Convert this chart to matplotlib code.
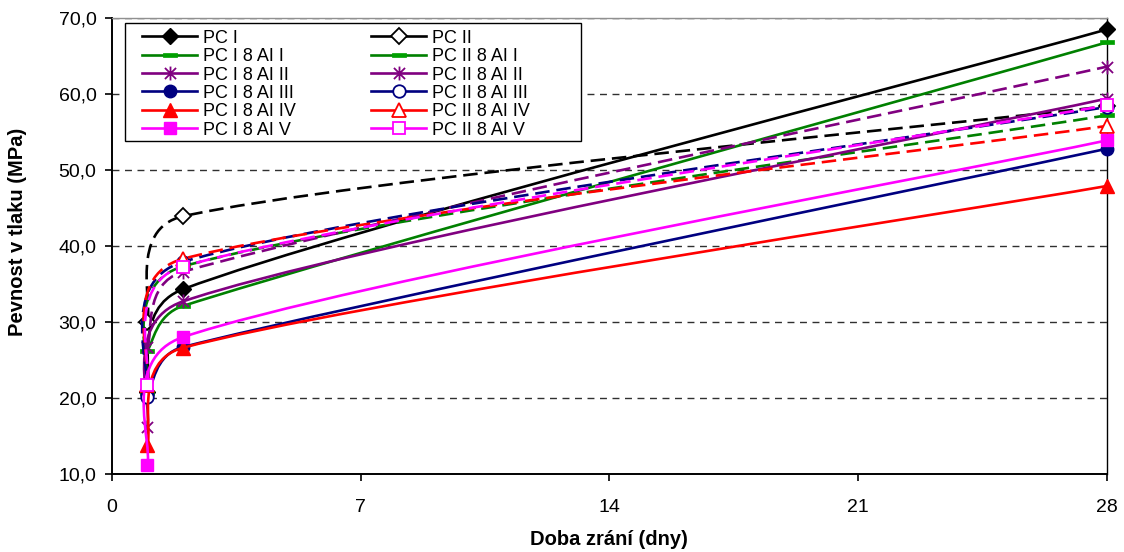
import matplotlib
matplotlib.use("Agg")
import matplotlib.pyplot as plt
import numpy as np
from matplotlib.path import Path
from matplotlib.patches import PathPatch, Rectangle
from matplotlib.lines import Line2D
from matplotlib import font_manager as fm
from matplotlib.ticker import FixedLocator, FuncFormatter

# ---------------- data ----------------
days = [1, 2, 28]

pc_i = [20.8, 34.3, 68.5]
pc_ii = [30.0, 43.9, 58.4]
pc_i_ai_i = [26.2, 32.1, 66.8]
pc_ii_ai_i = [20.6, 37.3, 57.2]
pc_i_ai_ii = [16.2, 32.7, 59.4]
pc_ii_ai_ii = [26.7, 36.6, 63.6]
pc_i_ai_iii = [20.4, 26.7, 52.8]
pc_ii_ai_iii = [20.1, 37.9, 58.3]
pc_i_ai_iv = [13.8, 26.6, 47.9]
pc_ii_ai_iv = [21.7, 38.3, 55.8]
pc_i_ai_v = [11.2, 28.0, 53.9]
pc_ii_ai_v = [21.7, 37.3, 58.5]

series_labels = ["PC I", "PC II",
                 "PC I 8 AI I", "PC II 8 AI I",
                 "PC I 8 AI II", "PC II 8 AI II",
                 "PC I 8 AI III", "PC II 8 AI III",
                 "PC I 8 AI IV", "PC II 8 AI IV",
                 "PC I 8 AI V", "PC II 8 AI V"]
series_values = [pc_i, pc_ii, pc_i_ai_i, pc_ii_ai_i, pc_i_ai_ii, pc_ii_ai_ii,
                 pc_i_ai_iii, pc_ii_ai_iii, pc_i_ai_iv, pc_ii_ai_iv,
                 pc_i_ai_v, pc_ii_ai_v]

y_ticks = [10, 20, 30, 40, 50, 60, 70]
x_ticks = [0, 7, 14, 21, 28]

# ---------------- styles ----------------
STAR = Path([(0, -1), (0, 1), (-0.8, -0.8), (0.8, 0.8), (-0.8, 0.8), (0.8, -0.8)],
            [Path.MOVETO, Path.LINETO, Path.MOVETO, Path.LINETO, Path.MOVETO, Path.LINETO])
DASHM = Path([(-1, -0.28), (1, -0.28), (1, 0.28), (-1, 0.28), (-1, -0.28)],
             [Path.MOVETO, Path.LINETO, Path.LINETO, Path.LINETO, Path.CLOSEPOLY])

black, green, purple, navy, red, magenta = "#000000", "#008000", "#800080", "#000080", "#FF0000", "#FF00FF"
colors = [black, black, green, green, purple, purple, navy, navy, red, red, magenta, magenta]
markers = ["D", "D", DASHM, DASHM, STAR, STAR, "o", "o", "^", "^", "s", "s"]
msizes = [8.5, 8.5, 10, 10, 10, 10, 9, 9, 10, 10, 9, 9]
filled = [True, False] * 6
dashed = [False, True] * 6

# ---------------- fonts ----------------
avail = {f.name for f in fm.fontManager.ttflist}
narrow = "Liberation Sans Narrow" if "Liberation Sans Narrow" in avail else "Liberation Sans"
plt.rcParams["font.family"] = ["Liberation Sans", "DejaVu Sans"]

W, H = 1124, 552
fig = plt.figure(figsize=(W / 100, H / 100), dpi=100)
x0, x1, yt, yb = 111.7, 1107, 18, 474
ax = fig.add_axes([x0 / W, 1 - yb / H, (x1 - x0) / W, (yb - yt) / H])
ax.set_xlim(0, 28)
ax.set_ylim(10, 70)


def excel_smooth(xs, ys):
    pts = ax.transData.transform(np.column_stack([xs, ys]).astype(float))
    n = len(pts)
    verts = [pts[0]]
    codes = [Path.MOVETO]
    f = 1 / 6
    for i in range(n - 1):
        p0 = pts[i - 1] if i > 0 else pts[i]
        p1 = pts[i]
        p2 = pts[i + 1]
        p3 = pts[i + 2] if i + 2 < n else pts[i + 1]
        d12 = np.hypot(*(p2 - p1))
        d02 = np.hypot(*(p2 - p0))
        d13 = np.hypot(*(p3 - p1))
        f1 = f if d02 * f <= d12 / 2 else d12 / 2 / d02
        f2 = f if d13 * f <= d12 / 2 else d12 / 2 / d13
        c1 = p1 + (p2 - p0) * f1
        c2 = p2 - (p3 - p1) * f2
        verts += [c1, c2, p2]
        codes += [Path.CURVE4] * 3
    verts = ax.transData.inverted().transform(np.array(verts))
    return Path(verts, codes)


LW = 1.9
DASH = (0, (5.5, 2.6))
handles = []
for i, (lab, vals) in enumerate(zip(series_labels, series_values)):
    c = colors[i]
    ls = DASH if dashed[i] else "-"
    patch = PathPatch(excel_smooth(days, vals), fill=False, edgecolor=c, lw=LW,
                      linestyle=ls, zorder=3 + i, capstyle="butt", joinstyle="round")
    ax.add_patch(patch)
    m = markers[i]
    if m is STAR:
        mfc, mec, mew = c, c, 1.3
    elif m is DASHM:
        mfc, mec, mew = "#00A000", "#00A000", 0.5
    elif filled[i]:
        mfc, mec, mew = c, c, 1.0
    else:
        mfc, mec, mew = "white", c, 1.3
    ax.plot(days, vals, linestyle="none", marker=m, ms=msizes[i], mfc=mfc, mec=mec,
            mew=mew, zorder=3.5 + i, clip_on=False)
    handles.append(Line2D([], [], color=c, lw=LW, linestyle="-", marker=m,
                          ms=msizes[i], mfc=mfc, mec=mec, mew=mew))

# ---------------- legend (two columns, boxed) ----------------
def fig_xy(px, py):
    return px / W, 1 - py / H

frame = Rectangle(fig_xy(125, 141), (581 - 125) / W, (141 - 23) / H,
                  transform=fig.transFigure, facecolor="white", edgecolor="black",
                  lw=1.0, zorder=29)
ax.add_patch(frame)
frame.set_clip_on(False)

LFS = 13
common = dict(loc="upper left", borderaxespad=0, borderpad=0, fontsize=LFS,
              frameon=False, labelspacing=0.07, handlelength=3.05,
              handletextpad=0.33, handleheight=0.8)
col1 = [0, 2, 4, 6, 8, 10]
col2 = [1, 3, 5, 7, 9, 11]
leg1 = ax.legend([handles[k] for k in col1], [series_labels[k] for k in col1],
                 bbox_to_anchor=fig_xy(142, 29.5), bbox_transform=fig.transFigure, **common)
leg1.set_zorder(30)
ax.add_artist(leg1)
leg2 = ax.legend([handles[k] for k in col2], [series_labels[k] for k in col2],
                 bbox_to_anchor=fig_xy(371, 29.5), bbox_transform=fig.transFigure, **common)
leg2.set_zorder(30)

# ---------------- axes styling ----------------
ax.yaxis.set_major_locator(FixedLocator(y_ticks))
ax.xaxis.set_major_locator(FixedLocator(x_ticks))
ax.yaxis.set_major_formatter(FuncFormatter(lambda v, p: f"{v:.1f}".replace(".", ",")))
ax.xaxis.set_major_formatter(FuncFormatter(lambda v, p: f"{int(v)}"))
ax.grid(axis="y", color="#303030", linestyle=(0, (5, 4)), lw=1.0, zorder=1)
ax.set_axisbelow(True)
for s in ["left", "bottom"]:
    ax.spines[s].set_color("black")
    ax.spines[s].set_linewidth(1.4)
ax.spines["top"].set_color("#909090")
ax.spines["top"].set_linewidth(1.0)
ax.spines["right"].set_color("black")
ax.spines["right"].set_linewidth(1.0)
ax.tick_params(axis="both", direction="out", length=5, width=1.2, labelsize=14, pad=6)
ax.tick_params(axis="x", pad=13)
for t in ax.get_xticklabels() + ax.get_yticklabels():
    t.set_fontfamily(narrow)

ax.set_xlabel("Doba zrání (dny)", fontsize=14.5, fontweight="bold", labelpad=10)
ax.set_ylabel("Pevnost v tlaku (MPa)", fontsize=14.5, fontweight="bold")
ax.yaxis.set_label_coords((27 - x0) / (x1 - x0), (yb - 232) / (yb - yt))

fig.savefig("out.png", dpi=100)
